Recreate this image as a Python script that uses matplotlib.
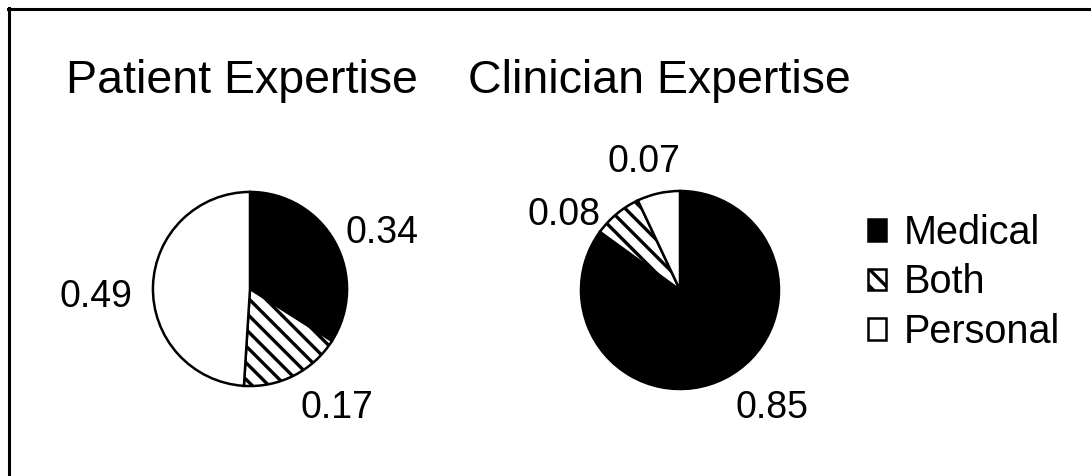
import numpy as np
import matplotlib.pyplot as plt
from matplotlib.patches import Patch
from matplotlib.lines import Line2D

plt.rcParams['font.family'] = ['Liberation Sans', 'DejaVu Sans']
plt.rcParams['hatch.linewidth'] = 2.4

categories = ['Medical', 'Both', 'Personal']
patient = [0.34, 0.17, 0.49]
clinician = [0.85, 0.08, 0.07]

face = ['black', 'white', 'white']
hatches = ['', '\\\\', '']

W, H = 1091, 476
fig = plt.figure(figsize=(W / 100, H / 100), dpi=100)
fig.patch.set_facecolor('white')

# frame lines along the top and left
fig.add_artist(Line2D([8.5 / W, 8.5 / W], [0, 1 - 8 / H], color='black', lw=2.2))
fig.add_artist(Line2D([8 / W, 1], [1 - 9 / H, 1 - 9 / H], color='black', lw=2.2))


def pie_axes(cx, cy, r):
    # square axes in pixel units, y measured from the top
    return fig.add_axes([(cx - r) / W, (H - cy - r) / H, 2 * r / W, 2 * r / H])


def draw_pie(ax, values, label_pos):
    wedges, _ = ax.pie(values, startangle=90, counterclock=False,
                       colors=face, radius=1,
                       wedgeprops=dict(edgecolor='black', linewidth=1.8))
    for w, h in zip(wedges, hatches):
        w.set_hatch(h)
    for v, (x, y) in zip(values, label_pos):
        ax.text(x, y, f'{v:.2f}', ha='center', va='center', fontsize=27)
    ax.set_xlim(-1.02, 1.02)
    ax.set_ylim(-1.02, 1.02)
    ax.set_aspect('equal')
    ax.axis('off')


ax1 = pie_axes(250, 289, 99)
draw_pie(ax1, patient, [(1.36, 0.58), (0.9, -1.23), (-1.59, -0.08)])

ax2 = pie_axes(680, 290, 101)
draw_pie(ax2, clinician, [(0.93, -1.19), (-1.17, 0.76), (-0.36, 1.29)])

fig.text(66 / W, 1 - 93 / H, 'Patient Expertise', fontsize=33.5, va='baseline')
fig.text(468 / W, 1 - 93 / H, 'Clinician Expertise', fontsize=33.5, va='baseline')

handles = [Patch(facecolor=f, edgecolor='black', hatch=h, linewidth=1.8)
           for f, h in zip(face, hatches)]
fig.legend(handles, categories, loc='upper left',
           bbox_to_anchor=(868 / W, 1 - 214 / H), frameon=False,
           fontsize=28.5, handlelength=0.46, handleheight=0.46,
           handletextpad=0.44, labelspacing=0.29, borderpad=0, borderaxespad=0)

fig.savefig('out.png', dpi=100, facecolor='white')
